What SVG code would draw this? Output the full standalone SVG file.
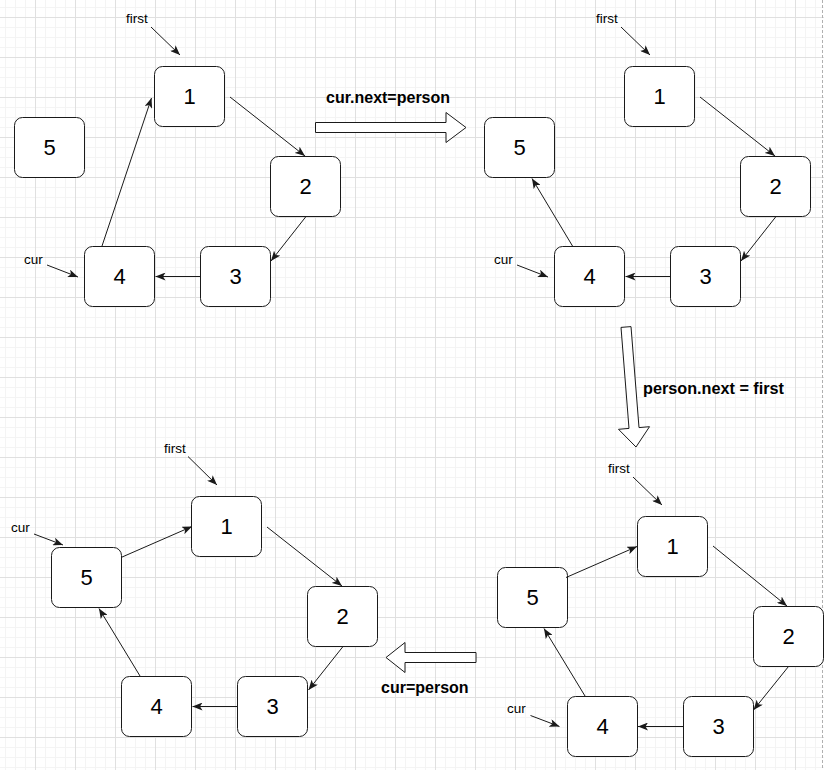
<svg xmlns="http://www.w3.org/2000/svg" width="824" height="770" viewBox="0 0 824 770">
<style>
.node rect{fill:#fff;stroke:#1a1a1a;stroke-width:1}
.num{font-family:"Liberation Sans",Arial,sans-serif;font-size:22px;fill:#000;text-anchor:middle}
.lbl{font-family:"Liberation Sans",Arial,sans-serif;font-size:13.5px;fill:#000}
.op{font-family:"Liberation Sans",Arial,sans-serif;font-size:16px;font-weight:bold;fill:#000}
.edge{stroke:#1a1a1a;stroke-width:1;fill:none;marker-end:url(#ah)}
.big{fill:#fff;stroke:#1a1a1a;stroke-width:1}
</style>
<defs>
<pattern id="grid" x="35" y="17" width="40" height="40" patternUnits="userSpaceOnUse">
<path d="M10.5 0V40M20.5 0V40M30.5 0V40M0 10.5H40M0 20.5H40M0 30.5H40" stroke="#f4f4f4" stroke-width="1" fill="none"/>
<path d="M0.5 0V40M0 0.5H40" stroke="#e0e0e0" stroke-width="1" fill="none"/>
</pattern>
<marker id="ah" viewBox="0 0 10 8" refX="10" refY="4" markerWidth="10" markerHeight="8" markerUnits="userSpaceOnUse" orient="auto">
<path d="M0 0L10 4L0 8L2.5 4Z" fill="#1a1a1a"/>
</marker>
</defs>
<rect width="824" height="770" fill="#fff"/>
<rect width="824" height="770" fill="url(#grid)"/>
<line x1="822.5" y1="0" x2="822.5" y2="770" stroke="#b0b0b0" stroke-dasharray="3 2"/>

<!-- Panel 1 -->
<g id="p1-n1" class="node"><rect x="154.5" y="66.5" width="70" height="60" rx="8"/><text class="num" x="189.5" y="104">1</text></g>
<g id="p1-n2" class="node"><rect x="270.5" y="156.5" width="70" height="60" rx="8"/><text class="num" x="305.5" y="194">2</text></g>
<g id="p1-n3" class="node"><rect x="200.5" y="246.5" width="70" height="60" rx="8"/><text class="num" x="235.5" y="284">3</text></g>
<g id="p1-n4" class="node"><rect x="84.5" y="246.5" width="70" height="60" rx="8"/><text class="num" x="119.5" y="284">4</text></g>
<g id="p1-n5" class="node"><rect x="14.5" y="117.5" width="70" height="60" rx="8"/><text class="num" x="49.5" y="155">5</text></g>
<g id="p1-first"><text class="lbl" x="126" y="23">first</text></g>
<g id="p1-cur"><text class="lbl" x="24" y="264">cur</text></g>

<!-- Panel 2 -->
<g id="p2-n1" class="node"><rect x="624.5" y="66.5" width="70" height="60" rx="8"/><text class="num" x="659.5" y="104">1</text></g>
<g id="p2-n2" class="node"><rect x="740.5" y="156.5" width="70" height="60" rx="8"/><text class="num" x="775.5" y="194">2</text></g>
<g id="p2-n3" class="node"><rect x="670.5" y="246.5" width="70" height="60" rx="8"/><text class="num" x="705.5" y="284">3</text></g>
<g id="p2-n4" class="node"><rect x="554.5" y="246.5" width="70" height="60" rx="8"/><text class="num" x="589.5" y="284">4</text></g>
<g id="p2-n5" class="node"><rect x="484.5" y="117.5" width="70" height="60" rx="8"/><text class="num" x="519.5" y="155">5</text></g>
<g id="p2-first"><text class="lbl" x="596" y="23">first</text></g>
<g id="p2-cur"><text class="lbl" x="494" y="264">cur</text></g>

<!-- Panel 3 -->
<g id="p3-n1" class="node"><rect x="637.5" y="516.5" width="70" height="60" rx="8"/><text class="num" x="672.5" y="554">1</text></g>
<g id="p3-n2" class="node"><rect x="753.5" y="606.5" width="70" height="60" rx="8"/><text class="num" x="788.5" y="644">2</text></g>
<g id="p3-n3" class="node"><rect x="683.5" y="696.5" width="70" height="60" rx="8"/><text class="num" x="718.5" y="734">3</text></g>
<g id="p3-n4" class="node"><rect x="567.5" y="696.5" width="70" height="60" rx="8"/><text class="num" x="602.5" y="734">4</text></g>
<g id="p3-n5" class="node"><rect x="497.5" y="567.5" width="70" height="60" rx="8"/><text class="num" x="532.5" y="605">5</text></g>
<g id="p3-first"><text class="lbl" x="608" y="473">first</text></g>
<g id="p3-cur"><text class="lbl" x="507" y="713">cur</text></g>

<!-- Panel 4 -->
<g id="p4-n1" class="node"><rect x="191.5" y="496.5" width="70" height="60" rx="8"/><text class="num" x="226.5" y="534">1</text></g>
<g id="p4-n2" class="node"><rect x="307.5" y="586.5" width="70" height="60" rx="8"/><text class="num" x="342.5" y="624">2</text></g>
<g id="p4-n3" class="node"><rect x="237.5" y="676.5" width="70" height="60" rx="8"/><text class="num" x="272.5" y="714">3</text></g>
<g id="p4-n4" class="node"><rect x="121.5" y="676.5" width="70" height="60" rx="8"/><text class="num" x="156.5" y="714">4</text></g>
<g id="p4-n5" class="node"><rect x="51.5" y="547.5" width="70" height="60" rx="8"/><text class="num" x="86.5" y="585">5</text></g>
<g id="p4-first"><text class="lbl" x="164" y="453">first</text></g>
<g id="p4-cur"><text class="lbl" x="11" y="532">cur</text></g>

<!-- Operation arrows -->
<g id="op1"><polygon class="big" points="315.5,122.5 446,122.5 446,112.5 466,127.5 446,142.5 446,132.5 315.5,132.5"/><text class="op" x="326" y="103">cur.next=person</text></g>
<g id="op2"><polygon class="big" points="621,327.4 631,326.6 639,427.6 649.5,426.7 636,447 618.5,429.3 629,428.4"/><text class="op" x="643" y="394" textLength="141" lengthAdjust="spacingAndGlyphs">person.next = first</text></g>
<g id="op3"><polygon class="big" points="476,652.5 405,652.5 405,642.5 386,657.5 405,672.5 405,662.5 476,662.5"/><text class="op" x="381" y="693">cur=person</text></g>

<g id="connectors">
<line class="edge" x1="230" y1="97" x2="305" y2="156"/>
<line class="edge" x1="306" y1="216.5" x2="271" y2="261"/>
<line class="edge" x1="201" y1="276.5" x2="155.5" y2="276.5"/>
<line class="edge" x1="102" y1="246" x2="151.5" y2="98"/>
<line class="edge" x1="151" y1="27" x2="180" y2="55"/>
<line class="edge" x1="47" y1="265" x2="78" y2="277"/>

<line class="edge" x1="700" y1="97" x2="775" y2="156"/>
<line class="edge" x1="776" y1="216.5" x2="741" y2="261"/>
<line class="edge" x1="671" y1="276.5" x2="625.5" y2="276.5"/>
<line class="edge" x1="572.5" y1="246" x2="532" y2="178.5"/>
<line class="edge" x1="621" y1="27" x2="650" y2="55"/>
<line class="edge" x1="517" y1="265" x2="548" y2="277"/>

<line class="edge" x1="713" y1="546" x2="787" y2="606"/>
<line class="edge" x1="788.5" y1="666.5" x2="753.5" y2="710"/>
<line class="edge" x1="683" y1="726.5" x2="638" y2="726.5"/>
<line class="edge" x1="585" y1="696" x2="544" y2="628.5"/>
<line class="edge" x1="566" y1="577.5" x2="637" y2="546.5"/>
<line class="edge" x1="633" y1="477" x2="662" y2="505"/>
<line class="edge" x1="530.5" y1="715.5" x2="559.5" y2="726.5"/>

<line class="edge" x1="267" y1="527" x2="342" y2="586"/>
<line class="edge" x1="343" y1="646.5" x2="308.5" y2="690"/>
<line class="edge" x1="238" y1="706.5" x2="192.5" y2="706.5"/>
<line class="edge" x1="140" y1="676" x2="99" y2="608.5"/>
<line class="edge" x1="121" y1="557.5" x2="192" y2="526.5"/>
<line class="edge" x1="188" y1="456.5" x2="217" y2="485"/>
<line class="edge" x1="34" y1="534" x2="63" y2="545"/>
</g>
</svg>
